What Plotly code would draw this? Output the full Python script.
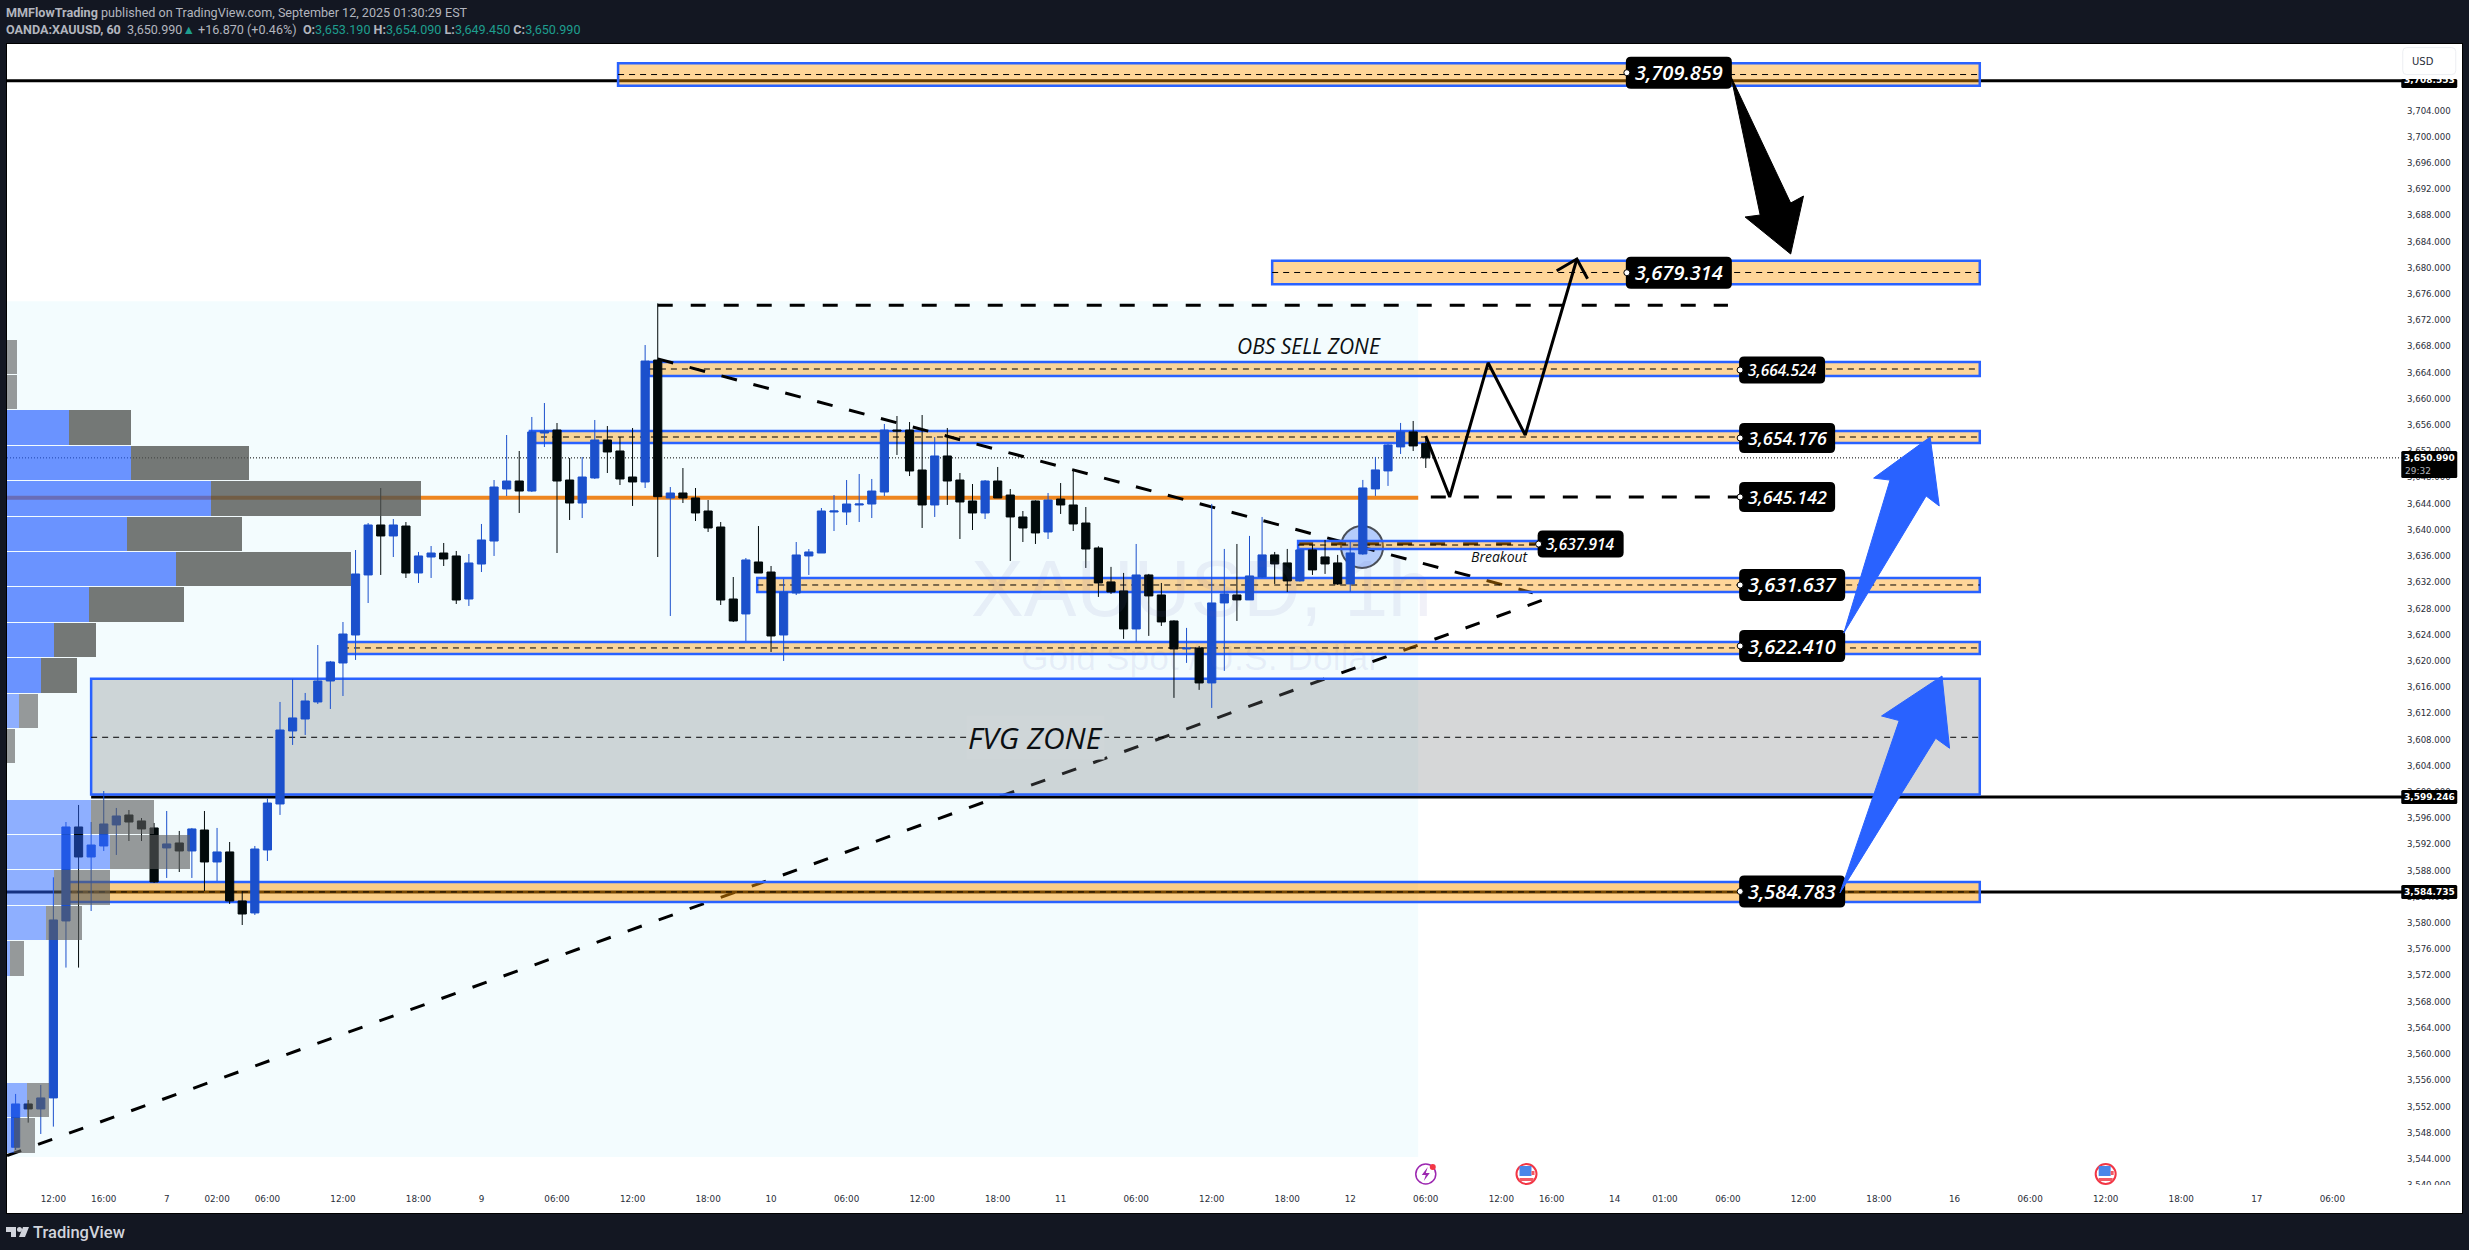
import plotly.graph_objects as go

# Hourly XAUUSD candles, one entry per bar
opens = [3545.78, 3552.39, 3551.63, 3553.31, 3580.32, 3594.66, 3590.08, 3591.76, 3594.97, 3596.49,
         3595.58, 3594.51, 3591.46, 3592.22, 3591.00, 3594.20, 3589.32, 3590.85, 3583.37, 3581.54,
         3591.15, 3598.17, 3609.31, 3611.14, 3613.74, 3616.94, 3619.69, 3623.96, 3633.12, 3640.75,
         3639.07, 3640.59, 3633.42, 3635.86, 3636.47, 3636.02, 3629.45, 3634.79, 3638.30, 3646.24,
         3647.46, 3645.93, 3654.78, 3655.24, 3647.61, 3644.10, 3647.92, 3653.72, 3652.04, 3648.07,
         3647.31, 3665.92, 3644.87, 3645.63, 3644.87, 3642.88, 3640.44, 3629.45, 3627.17, 3635.10,
         3633.57, 3623.96, 3630.37, 3636.02, 3636.47, 3642.73, 3642.73, 3643.80, 3643.95, 3645.78,
         3655.24, 3655.24, 3649.14, 3643.80, 3651.28, 3647.61, 3644.41, 3642.58, 3647.46, 3645.32,
         3641.97, 3644.41, 3639.68, 3644.71, 3643.80, 3641.05, 3637.24, 3632.06, 3630.68, 3624.88,
         3633.12, 3630.07, 3626.10, 3621.83, 3621.98, 3616.64, 3628.85, 3630.07, 3629.31, 3632.82,
         3636.18, 3634.96, 3632.21, 3636.94, 3635.87, 3634.96, 3631.75, 3636.33, 3646.25, 3649.00,
         3652.66, 3654.95, 3653.19]
highs = [3553.92, 3553.00, 3555.29, 3586.98, 3595.42, 3598.02, 3595.42, 3600.15, 3597.56, 3597.25,
         3596.03, 3595.27, 3597.10, 3594.05, 3594.51, 3597.10, 3594.51, 3592.37, 3584.89, 3591.76,
         3599.00, 3613.74, 3617.25, 3615.11, 3622.43, 3620.00, 3625.94, 3636.93, 3641.05, 3646.39,
         3641.66, 3641.20, 3636.63, 3637.54, 3638.00, 3636.78, 3636.32, 3640.90, 3647.61, 3654.48,
         3652.04, 3657.23, 3659.36, 3656.31, 3650.97, 3651.12, 3656.77, 3655.85, 3654.17, 3655.55,
         3668.21, 3674.57, 3646.54, 3649.44, 3646.39, 3644.56, 3641.20, 3632.81, 3635.71, 3640.59,
         3634.49, 3632.51, 3638.15, 3637.08, 3643.34, 3645.32, 3647.61, 3648.53, 3647.77, 3656.16,
         3657.38, 3656.46, 3657.53, 3654.17, 3655.55, 3648.68, 3647.00, 3647.61, 3649.60, 3646.24,
         3642.88, 3644.50, 3645.63, 3647.15, 3649.14, 3643.49, 3637.50, 3634.35, 3633.43, 3637.85,
         3633.28, 3631.90, 3626.20, 3625.04, 3622.29, 3643.96, 3637.09, 3637.85, 3639.08, 3641.97,
         3636.63, 3637.09, 3637.00, 3637.70, 3638.46, 3636.18, 3638.16, 3647.62, 3651.13, 3653.10,
         3656.32, 3656.62, 3654.09]
lows = [3545.37, 3549.54, 3547.81, 3548.93, 3573.20, 3573.20, 3581.84, 3591.00, 3590.39, 3592.52,
        3592.52, 3586.12, 3586.88, 3587.79, 3586.88, 3584.89, 3586.42, 3582.91, 3579.70, 3581.23,
        3589.47, 3596.50, 3607.18, 3608.70, 3613.43, 3612.67, 3614.65, 3620.15, 3628.84, 3633.12,
        3635.86, 3632.66, 3631.90, 3632.66, 3634.49, 3628.69, 3628.39, 3633.57, 3636.02, 3645.17,
        3642.58, 3645.78, 3652.65, 3636.47, 3641.51, 3641.81, 3647.77, 3648.68, 3646.85, 3643.65,
        3646.39, 3635.86, 3626.86, 3644.10, 3641.36, 3639.68, 3628.54, 3625.94, 3623.05, 3633.42,
        3621.37, 3620.00, 3630.06, 3633.12, 3636.47, 3639.83, 3640.75, 3641.20, 3641.81, 3645.17,
        3651.43, 3648.22, 3640.29, 3641.97, 3643.80, 3638.61, 3639.98, 3641.66, 3644.87, 3635.25,
        3638.15, 3637.85, 3638.61, 3642.43, 3639.83, 3634.19, 3629.77, 3630.23, 3623.36, 3622.90,
        3623.82, 3625.34, 3614.36, 3619.70, 3615.58, 3612.83, 3618.48, 3626.10, 3629.30, 3632.70,
        3631.75, 3630.53, 3632.10, 3633.12, 3633.28, 3631.60, 3630.53, 3636.20, 3645.18, 3646.71,
        3651.59, 3652.04, 3649.45]
closes = [3552.39, 3551.63, 3553.31, 3580.47, 3594.66, 3590.08, 3591.91, 3595.12, 3596.34, 3595.42,
          3594.36, 3586.27, 3592.07, 3591.00, 3594.36, 3589.32, 3590.85, 3583.37, 3581.38, 3591.30,
          3598.32, 3609.46, 3611.30, 3613.89, 3616.94, 3619.84, 3624.11, 3633.27, 3640.75, 3639.07,
          3640.75, 3633.42, 3636.02, 3636.47, 3635.56, 3629.30, 3634.95, 3638.46, 3646.54, 3647.46,
          3645.93, 3654.94, 3655.09, 3647.46, 3644.10, 3648.07, 3653.72, 3651.89, 3647.77, 3647.31,
          3665.77, 3645.07, 3645.63, 3644.87, 3642.58, 3640.29, 3629.30, 3626.10, 3635.41, 3633.42,
          3623.81, 3630.52, 3636.17, 3636.63, 3642.88, 3642.88, 3643.95, 3643.95, 3645.93, 3655.24,
          3655.09, 3648.99, 3643.80, 3651.28, 3647.46, 3644.26, 3642.58, 3647.46, 3644.87, 3641.97,
          3640.29, 3639.53, 3644.56, 3643.80, 3640.90, 3637.08, 3631.90, 3630.53, 3624.88, 3633.12,
          3629.92, 3625.95, 3621.83, 3621.98, 3616.64, 3628.85, 3630.23, 3629.31, 3632.97, 3636.18,
          3634.80, 3632.21, 3636.94, 3633.89, 3634.80, 3631.75, 3636.48, 3646.40, 3649.15, 3652.96,
          3654.95, 3652.81, 3650.99]

# Time axis labels sit on bar numbers, empty future bars run on past the last candle
time_tick_bars = [3, 7, 12, 16, 20, 26, 32, 37, 43, 49, 55, 60, 66, 72, 78, 83, 89, 95, 101, 106, 112,
                  118, 122, 127, 131, 136, 142, 148, 154, 160, 166, 172, 178, 184]
time_tick_text = ["12:00", "16:00", "7", "02:00", "06:00", "12:00", "18:00", "9", "06:00", "12:00", "18:00",
                  "10", "06:00", "12:00", "18:00", "11", "06:00", "12:00", "18:00", "12", "06:00",
                  "12:00", "16:00", "14", "01:00", "06:00", "12:00", "18:00", "16", "06:00", "12:00", "18:00",
                  "17", "06:00"]
price_ticks = list(range(3540, 3708, 4))

# Volume profile rows, price at row centre
profile_price = [3666.4, 3661.0, 3655.6, 3650.2, 3644.8, 3639.4, 3634.0, 3628.6, 3623.2, 3617.8, 3612.4, 3607.0,
                 3601.6, 3596.2, 3590.8, 3585.4, 3580.0, 3574.6, 3569.2, 3563.8, 3558.4, 3553.0, 3547.6]
profile_up = [0, 0, 62, 124, 204, 120, 169, 82, 47, 34, 12, 0, 0, 84, 103, 47, 39, 3, 0, 0, 0, 20, 7]
profile_down = [10, 10, 62, 118, 210, 115, 175, 95, 42, 36, 19, 8, 0, 63, 80, 56, 36, 14, 0, 0, 0, 22, 21]

# Supply and demand zones
zone_left = [50.3, 40.85, 47.85, 99.8, 58.9, 26, 4, 101.86]
zone_right = [156, 156, 156, 156, 156, 156, 156, 121]
zone_top = [3665.62, 3655.09, 3711.2, 3681.08, 3632.66, 3622.9, 3586.27, 3638.3]
zone_bottom = [3663.48, 3653.26, 3707.78, 3677.48, 3630.52, 3621.06, 3583.22, 3637.08]

# FVG box
fvg_left = 6
fvg_right = 156
fvg_top = 3617.29
fvg_bottom = 3599.6

# Price levels
level_upper = 3708.553
level_mid = 3599.246
level_lower = 3584.735
last_price = 3650.99
poc_price = 3644.9

# Hand drawn lines, as bar number and price
fall_x = [51, 120.5]
fall_y = [3666.1, 3630.4]
rise_x = [-0.68, 121.95]
rise_y = [3544.5, 3629.75]
zigzag_x = [112, 113.9, 116.95, 119.9, 124.0]
zigzag_y = [3654.33, 3645.02, 3665.5, 3654.48, 3681.34]
zigzag_head_x = [122.4, 124.0, 124.85]
zigzag_head_y = [3679.55, 3681.34, 3678.33]

# Arrows: tail, inner left, left barb, tip, right barb, inner right
arrow_down_x = [136.25, 138.56, 137.36, 140.98, 142.0, 140.98]
arrow_down_y = [3709.11, 3688.05, 3687.75, 3682.1, 3690.95, 3689.88]
arrow_up1_x = [145.2, 148.87, 147.57, 152.06, 152.78, 151.74]
arrow_up1_y = [3624.25, 3647.6, 3647.9, 3654.17, 3643.65, 3645.17]
arrow_up2_x = [144.9, 149.6, 148.2, 153.0, 153.6, 152.5]
arrow_up2_y = [3584.6, 3610.9, 3611.6, 3617.7, 3606.67, 3608.2]

# Black price tags on the chart
tag_text = ["3,709.859", "3,679.314", "3,664.524", "3,654.176", "3,645.142", "3,637.914", "3,631.637",
            "3,622.410", "3,584.783"]
tag_x = [132.1, 132.1, 140.3, 140.7, 140.7, 124.3, 141.1, 141.1, 141.1]
tag_y = [3709.77, 3679.25, 3664.4, 3654.02, 3645.02, 3637.84, 3631.59, 3622.28, 3584.82]

BLUE = "#2962FF"
CANDLE_BLUE = "#1B50CC"
CANDLE_BLACK = "#020A0B"
HEADER_BG = "#131722"
X_RANGE = [-0.683, 194.3]
Y_RANGE = [3535.75, 3714.15]
WIDTH = 2469
HEIGHT = 1250
M_L, M_R, M_T, M_B = 7, 7, 44, 37


def paper_x(px):
    return (px - M_L) / (WIDTH - M_L - M_R)


def paper_y(py):
    return 1 - (py - M_T) / (HEIGHT - M_T - M_B)


def round_box(w, h, r):
    x = w / 2
    y = h / 2
    return (f"M {-x + r},{-y} L {x - r},{-y} Q {x},{-y} {x},{-y + r} L {x},{y - r} Q {x},{y} {x - r},{y} "
            f"L {-x + r},{y} Q {-x},{y} {-x},{y - r} L {-x},{-y + r} Q {-x},{-y} {-x + r},{-y} Z")


def polygon(xs, ys):
    pts = [f"{x},{y}" for x, y in zip(xs, ys)]
    return "M " + " L ".join(pts) + " Z"


shapes = []
annotations = []


def add_line(x0, y0, x1, y1, color="black", width=3, dash="solid"):
    shapes.append(dict(type="line", layer="below", x0=x0, y0=y0, x1=x1, y1=y1,
                       line=dict(color=color, width=width, dash=dash)))


def add_zone(i, alpha=0.4):
    shapes.append(dict(type="rect", layer="below", x0=zone_left[i], x1=zone_right[i], y0=zone_bottom[i],
                       y1=zone_top[i], fillcolor=f"rgba(255,152,0,{alpha})", line=dict(color=BLUE, width=2.5)))
    mid = (zone_top[i] + zone_bottom[i]) / 2
    add_line(zone_left[i], mid, zone_right[i], mid, width=1, dash="6px,5px")


def add_tag(x, y, w, h, size, text):
    shapes.append(dict(type="path", layer="above", xsizemode="pixel", ysizemode="pixel", xanchor=x, yanchor=y,
                       path=round_box(w, h, 5), fillcolor="black", line=dict(color="black", width=0)))
    shapes.append(dict(type="circle", layer="above", xsizemode="pixel", ysizemode="pixel", xanchor=x, yanchor=y,
                       x0=-w / 2 - 2, x1=-w / 2 + 4, y0=-3, y1=3, fillcolor="white",
                       line=dict(color="black", width=1)))
    annotations.append(dict(x=x, y=y, text=text, showarrow=False,
                            font=dict(family="Open Sans", size=size, color="white", weight=600, style="italic")))


def add_axis_tag(y, h, text, text_y=None):
    shapes.append(dict(type="path", layer="above", xsizemode="pixel", ysizemode="pixel", xanchor=191.7, yanchor=y,
                       path=round_box(56, h, 1.5), fillcolor="black", line=dict(color="black", width=0)))
    annotations.append(dict(x=191.7, y=text_y if text_y else y, text=f"<b>{text}</b>", showarrow=False,
                            font=dict(family="DejaVu Sans", size=9, color="white")))


def add_flag(x, y):
    ring = dict(type="circle", layer="above", xsizemode="pixel", ysizemode="pixel", xanchor=x, yanchor=y)
    shapes.append(dict(ring, x0=-10, x1=10, y0=-10, y1=10, fillcolor="white", line=dict(color="#F23645", width=2)))
    shapes.append(dict(ring, type="rect", x0=-7, x1=5, y0=-2, y1=8, fillcolor="#4A86E8", line=dict(width=0)))
    shapes.append(dict(ring, type="rect", x0=5, x1=8, y0=-1, y1=3, fillcolor="#F25A64", line=dict(width=0)))
    shapes.append(dict(ring, type="rect", x0=-7, x1=7, y0=-7, y1=-4, fillcolor="#F25A64", line=dict(width=0)))


def add_bolt(x, y):
    ring = dict(layer="above", xsizemode="pixel", ysizemode="pixel", xanchor=x, yanchor=y)
    shapes.append(dict(ring, type="circle", x0=-10, x1=10, y0=-10, y1=10, fillcolor="white",
                       line=dict(color="#9C27B0", width=1.5)))
    shapes.append(dict(ring, type="path", path="M 2,7 L -4,-1 L 0,-1 L -2,-7 L 4,1 L 0,1 Z",
                       fillcolor="#9C27B0", line=dict(width=0)))
    shapes.append(dict(ring, type="circle", x0=4, x1=10, y0=4, y1=10, fillcolor="#F23645", line=dict(width=0)))


# Background block behind the visible range
shapes.append(dict(type="rect", layer="below", x0=X_RANGE[0], x1=111.4, y0=3544.3, y1=3674.9,
                   fillcolor="#F3FCFE", line=dict(width=0)))

# Breakout circle
shapes.append(dict(type="circle", layer="below", xsizemode="pixel", ysizemode="pixel", xanchor=106.94,
                   yanchor=3637.4, x0=-21, x1=21, y0=-21, y1=21, fillcolor="#B4CCFB",
                   line=dict(color="#4A4F57", width=2)))

# Zones that sit under the trend lines
add_zone(0)
add_zone(1)

# Levels and trend lines
add_line(X_RANGE[0], level_upper, 190, level_upper)
add_line(fvg_left, level_mid, 190, level_mid)
add_line(X_RANGE[0], level_lower, 190, level_lower)
add_line(X_RANGE[0], last_price, 189.5, last_price, width=1, dash="1px,2px")
add_line(X_RANGE[0], poc_price, 111.4, poc_price, color="#EE8620", width=4)
add_line(51, 3674.27, 136, 3674.27, dash="15px,18px")
add_line(112.4, 3645.0, 136.9, 3645.0, dash="15px,18px")
add_line(101.86, 3637.9, 121, 3637.9, dash="15px,18px")
add_line(fall_x[0], fall_y[0], fall_x[1], fall_y[1], dash="16px,17px")
add_line(rise_x[0], rise_y[0], rise_x[1], rise_y[1], dash="15px,18px")

# FVG box over the trend lines
shapes.append(dict(type="rect", layer="below", x0=fvg_left, x1=fvg_right, y0=fvg_bottom, y1=fvg_top,
                   fillcolor="rgba(120,123,126,0.3)", line=dict(color=BLUE, width=2.5)))
add_line(fvg_left, 3608.35, fvg_right, 3608.35, width=1, dash="6px,5px")

# Remaining zones cover the trend lines
for i in [2, 3, 4, 5, 7]:
    add_zone(i)
add_zone(6, alpha=0.47)

# Tags
for k in range(len(tag_text)):
    if k in (0, 1, 6, 7, 8):
        add_tag(tag_x[k], tag_y[k], 106, 32, 20, tag_text[k])
    elif k in (3, 4):
        add_tag(tag_x[k], tag_y[k], 96, 30, 18, tag_text[k])
    else:
        add_tag(tag_x[k], tag_y[k], 86, 27, 15.5, tag_text[k])

# Arrows
shapes.append(dict(type="path", layer="above", path=polygon(arrow_down_x, arrow_down_y), fillcolor="black",
                   line=dict(color="black", width=1)))
for ax, ay in [(arrow_up1_x, arrow_up1_y), (arrow_up2_x, arrow_up2_y)]:
    shapes.append(dict(type="path", layer="above", path=polygon(ax, ay), fillcolor=BLUE,
                       line=dict(color=BLUE, width=1)))

# Cuts the lowest price label in half, like the time scale does
shapes.append(dict(type="rect", layer="above", xref="paper", yref="paper", x0=paper_x(2390), x1=1,
                   y0=0, y1=paper_y(1185), fillcolor="white", line=dict(width=0)))

# Price scale tags and currency button
shapes.append(dict(type="path", layer="above", xsizemode="pixel", ysizemode="pixel", xanchor=191.7, yanchor=3711.54,
                   path=round_box(53, 27, 4), fillcolor="white", line=dict(color="#ECEEF2", width=1)))
annotations.append(dict(x=191.7, y=3711.54, text="USD", showarrow=False, xshift=-6,
                        font=dict(family="DejaVu Sans", size=10, color="#2A2E39")))
add_axis_tag(3708.12, 9, "3,708.553", text_y=3708.65)
add_axis_tag(level_mid, 14, "3,599.246")
add_axis_tag(level_lower, 14, "3,584.735")
shapes.append(dict(type="path", layer="above", xsizemode="pixel", ysizemode="pixel", xanchor=191.7, yanchor=3649.98,
                   path=round_box(56, 27, 1.5), fillcolor="black", line=dict(color="black", width=0)))
annotations.append(dict(x=191.7, y=3650.9, text="<b>3,650.990</b>", showarrow=False,
                        font=dict(family="DejaVu Sans", size=9, color="white")))
annotations.append(dict(x=191.7, y=3649.0, text="29:32", showarrow=False, xshift=-11,
                        font=dict(family="DejaVu Sans", size=9, color="#B2B5BE")))

# Economic event icons
add_bolt(112, 3541.7)
add_flag(120, 3541.7)
add_flag(166, 3541.7)

# Texts on the chart
annotations.append(dict(x=81, y=3608.35, text="FVG ZONE", showarrow=False, bgcolor="#CFD6D8",
                        font=dict(family="Open Sans", size=30, color="#0B0F12", weight=500, style="italic")))
annotations.append(dict(x=102.7, y=3668.0, text="OBS SELL ZONE", showarrow=False,
                        font=dict(family="Open Sans", size=21, color="#0B0F12", style="italic")))
annotations.append(dict(x=117.9, y=3635.9, text="Breakout", showarrow=False,
                        font=dict(family="Open Sans", size=14, color="#0B0F12", style="italic")))

# Watermark
annotations.append(dict(x=94.2, y=3631.1, text="XAUUSD, 1h", showarrow=False,
                        font=dict(family="Liberation Sans", size=79, color="rgba(100,100,180,0.09)")))
annotations.append(dict(x=94.1, y=3620.4, text="Gold Spot / U.S. Dollar", showarrow=False,
                        font=dict(family="Liberation Sans", size=35.5, color="rgba(100,100,180,0.09)")))

# Header and footer
head = dict(xref="paper", yref="paper", xanchor="left", yanchor="middle", showarrow=False, align="left",
            font=dict(family="Roboto", size=12.6, color="#B2B5BE"))
annotations.append(dict(head, x=paper_x(4), y=paper_y(12.5),
                        text="<b>MMFlowTrading</b> published on TradingView.com, September 12, 2025 01:30:29 EST"))
GREEN = "#1E9E8E"
annotations.append(dict(head, x=paper_x(4), y=paper_y(30),
                        text=f"<b>OANDA:XAUUSD, 60</b>  3,650.990<span style='color:{GREEN}'>▲</span> +16.870 (+0.46%)  "
                             f"<b>O:</b><span style='color:{GREEN}'>3,653.190</span> "
                             f"<b>H:</b><span style='color:{GREEN}'>3,654.090</span> "
                             f"<b>L:</b><span style='color:{GREEN}'>3,649.450</span> "
                             f"<b>C:</b><span style='color:{GREEN}'>3,650.990</span>"))
annotations.append(dict(head, x=paper_x(31), y=paper_y(1232), text="TradingView",
                        font=dict(family="Roboto", size=16.5, color="#D1D4DC", weight=500)))


def paper_polygon(points):
    return polygon([paper_x(p[0]) for p in points], [paper_y(p[1]) for p in points])


for pts in [[(6, 1227), (16, 1227), (16, 1237), (11, 1237), (11, 1232), (6, 1232)],
            [(23, 1227), (29, 1227), (25, 1237), (19, 1237)]]:
    shapes.append(dict(type="path", layer="above", xref="paper", yref="paper", path=paper_polygon(pts),
                       fillcolor="#D1D4DC", line=dict(width=0)))
shapes.append(dict(type="circle", layer="above", xref="paper", yref="paper", x0=paper_x(17), x1=paper_x(22),
                   y0=paper_y(1232), y1=paper_y(1227), fillcolor="#D1D4DC", line=dict(width=0)))

fig = go.Figure()

fig.add_trace(go.Candlestick(x=list(range(len(opens))), open=opens, high=highs, low=lows, close=closes,
                             increasing=dict(line=dict(color=CANDLE_BLUE, width=1), fillcolor=CANDLE_BLUE),
                             decreasing=dict(line=dict(color=CANDLE_BLACK, width=1), fillcolor=CANDLE_BLACK),
                             whiskerwidth=0, hoverinfo="skip", showlegend=False))

# Zig-zag path goes over the candles
fig.add_trace(go.Scatter(x=zigzag_x, y=zigzag_y, mode="lines", line=dict(color="black", width=3),
                         hoverinfo="skip", showlegend=False))
fig.add_trace(go.Scatter(x=zigzag_head_x, y=zigzag_head_y, mode="lines", line=dict(color="black", width=3),
                         hoverinfo="skip", showlegend=False))

# Profile on its own overlaid axis so it ends up on top of the candles
faint_rows = [k < 2 or k >= 10 for k in range(len(profile_price))]
fig.add_trace(go.Bar(y=profile_price, x=profile_up, orientation="h", xaxis="x2", width=5.25, hoverinfo="skip",
                     marker=dict(color=["rgba(41,98,255,0.5)" if f else "rgba(41,98,255,0.68)" for f in faint_rows],
                                 line=dict(width=0)), showlegend=False))
fig.add_trace(go.Bar(y=profile_price, x=profile_down, orientation="h", xaxis="x2", width=5.25, hoverinfo="skip",
                     marker=dict(color=["rgba(90,92,92,0.62)" if f else "rgba(80,82,80,0.78)" for f in faint_rows],
                                 line=dict(width=0)), showlegend=False))

fig.update_layout(
    width=WIDTH,
    height=HEIGHT,
    margin=dict(l=M_L, r=M_R, t=M_T, b=M_B, pad=0),
    paper_bgcolor=HEADER_BG,
    plot_bgcolor="white",
    barmode="stack",
    boxgap=0.35,
    boxgroupgap=0,
    showlegend=False,
    shapes=shapes,
    annotations=annotations,
    xaxis=dict(range=X_RANGE, rangeslider=dict(visible=False), showgrid=False, zeroline=False,
               tickmode="array", tickvals=time_tick_bars, ticktext=time_tick_text, ticks="",
               ticklabelposition="inside", ticklabelstandoff=8,
               tickfont=dict(family="DejaVu Sans", size=8.8, color="#2A2E39"),
               showline=True, linecolor="black", linewidth=1, mirror=True),
    xaxis2=dict(range=[0, WIDTH - M_L - M_R], overlaying="x", visible=False, fixedrange=True),
    yaxis=dict(range=Y_RANGE, side="right", showgrid=False, zeroline=False,
               tickmode="array", tickvals=price_ticks, tickformat=",.3f", ticks="",
               ticklabelposition="inside", ticklabelstandoff=10,
               tickfont=dict(family="DejaVu Sans", size=8.6, color="#2A2E39"),
               showline=True, linecolor="black", linewidth=1, mirror=True),
)

fig.write_html("out.html", config=dict(displayModeBar=False),
               post_script="document.body.style.margin='0';document.documentElement.style.overflow='hidden';")
